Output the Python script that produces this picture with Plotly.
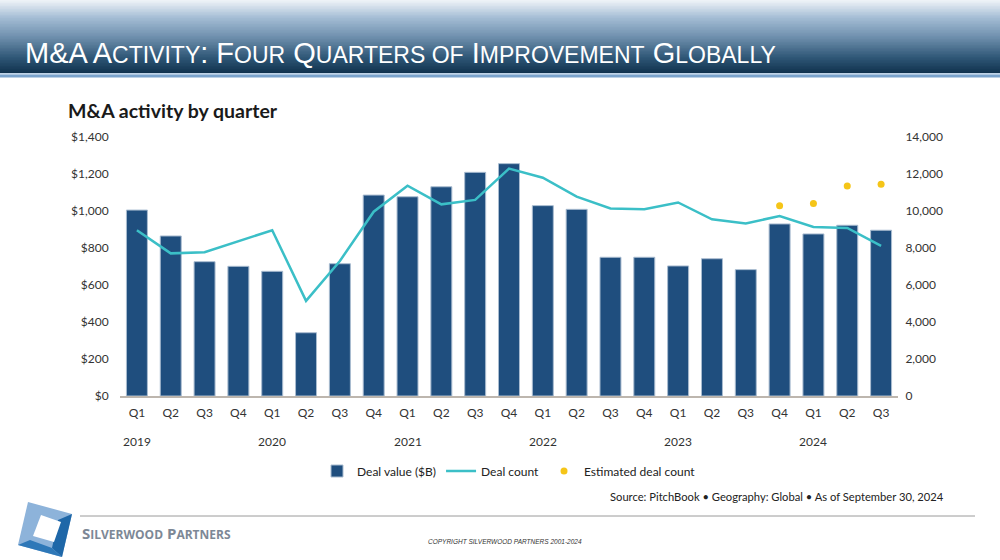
import plotly.graph_objects as go

quarters = ["Q1", "Q2", "Q3", "Q4"] * 5 + ["Q1", "Q2", "Q3"]
years = ["2019", "2020", "2021", "2022", "2023", "2024"]
deal_value = [1005, 865, 726, 701, 674, 342, 715, 1086, 1077, 1131, 1209, 1256,
              1029, 1009, 750, 750, 703, 742, 683, 930, 876, 923, 896]
deal_count = [8960, 7710, 7770, 8350, 8960, 5140, 7300, 9960, 11370, 10360, 10600, 12290,
              11800, 10780, 10140, 10090, 10460, 9550, 9330, 9730, 9140, 9080, 8110]
est_idx = [19, 20, 21, 22]
est_count = [10290, 10410, 11350, 11440]

left_ticks = [0, 200, 400, 600, 800, 1000, 1200, 1400]
right_ticks = [0, 2000, 4000, 6000, 8000, 10000, 12000, 14000]

W, H = 1000, 560
L, R, T, B = 120, 898, 137, 396


def xp(px):
    return (px - L) / (R - L)


def yp(py):
    return (B - py) / (B - T)


FONT = "Lato, 'Open Sans', sans-serif"
x = list(range(len(deal_value)))

fig = go.Figure()
fig.add_trace(go.Bar(
    x=x, y=deal_value, name="Deal value ($B)",
    marker=dict(color="#1F4E7E", line=dict(color="#A9BCD0", width=1)),
    yaxis="y"))
fig.add_trace(go.Scatter(
    x=x, y=deal_count, name="Deal count", mode="lines",
    line=dict(color="#3BBFC7", width=2.5), yaxis="y2"))
fig.add_trace(go.Scatter(
    x=est_idx, y=est_count, name="Estimated deal count", mode="markers",
    marker=dict(color="#F5C518", size=7), yaxis="y2"))

shapes = []
# header gradient
stops = [(0, (240, 244, 249)), (18, (163, 188, 212)), (38, (108, 141, 171)),
         (58, (46, 86, 117)), (73, (16, 50, 78))]


def lerp_color(py):
    for (y0, c0), (y1, c1) in zip(stops[:-1], stops[1:]):
        if y0 <= py <= y1:
            t = (py - y0) / (y1 - y0)
            return "rgb(%d,%d,%d)" % tuple(round(a + (b - a) * t) for a, b in zip(c0, c1))
    return "rgb(16,50,78)"


step = 1.5
py = 0.0
while py < 73:
    shapes.append(dict(type="rect", xref="paper", yref="paper", layer="below",
                       x0=xp(0), x1=xp(W), y0=yp(py), y1=yp(min(py + step + 0.5, 73)),
                       fillcolor=lerp_color(py + step / 2), line=dict(width=0)))
    py += step
shapes.append(dict(type="rect", xref="paper", yref="paper", layer="below",
                   x0=xp(0), x1=xp(W), y0=yp(73), y1=yp(74.5),
                   fillcolor="#BFD3E8", line=dict(width=0)))
shapes.append(dict(type="rect", xref="paper", yref="paper", layer="below",
                   x0=xp(0), x1=xp(W), y0=yp(74.5), y1=yp(77.5),
                   fillcolor="#7AA3CC", line=dict(width=0)))
# footer line
shapes.append(dict(type="line", xref="paper", yref="paper",
                   x0=xp(80), x1=xp(975), y0=yp(516), y1=yp(516),
                   line=dict(color="#9A9A9A", width=1)))


def poly(pts, color):
    path = "M " + " L ".join("%f,%f" % (xp(a), yp(b)) for a, b in pts) + " Z"
    return dict(type="path", xref="paper", yref="paper", path=path,
                fillcolor=color, line=dict(width=0))


# logo
shapes.append(poly([(28, 502), (72, 514), (62, 557), (18, 545)], "#8DB3DA"))
shapes.append(poly([(72, 514), (62, 557), (52, 548), (58, 520)], "#1E67A8"))
shapes.append(poly([(18, 545), (62, 557), (52, 548), (30, 540)], "#2E78B8"))
shapes.append(poly([(41, 515), (61, 522), (54, 542), (33, 536)], "#FFFFFF"))

annotations = []
for i, yr in enumerate(years):
    annotations.append(dict(x=i * 4, y=yp(441), xref="x", yref="paper", text=yr,
                            showarrow=False, font=dict(family=FONT, size=12, color="#333333"),
                            xanchor="center", yanchor="middle"))

annotations.append(dict(x=xp(66), y=yp(110), xref="paper", yref="paper",
                        text="<b>M&A activity by quarter</b>", showarrow=False,
                        font=dict(family=FONT, size=19.5, color="#1A1A1A"),
                        xanchor="left", yanchor="middle"))

sm = 23
hdr = ("M&A A<span style='font-size:%dpx'>CTIVITY</span>: F<span style='font-size:%dpx'>OUR</span> "
       "Q<span style='font-size:%dpx'>UARTERS OF</span> I<span style='font-size:%dpx'>MPROVEMENT</span> "
       "G<span style='font-size:%dpx'>LOBALLY</span>") % (sm, sm, sm, sm, sm)
annotations.append(dict(x=xp(23), y=yp(53), xref="paper", yref="paper", text=hdr,
                        showarrow=False,
                        font=dict(family="'Liberation Sans', Arial, sans-serif",
                                  size=29, color="#FFFFFF"),
                        xanchor="left", yanchor="middle"))

annotations.append(dict(x=xp(946), y=yp(497), xref="paper", yref="paper",
                        text="Source: PitchBook \u2022 Geography: Global \u2022 As of September 30, 2024",
                        showarrow=False, font=dict(family=FONT, size=11.2, color="#222222"),
                        xanchor="right", yanchor="middle"))
annotations.append(dict(x=xp(80), y=yp(533), xref="paper", yref="paper",
                        text="<b>S<span style='font-size:12px'>ILVERWOOD</span> P<span style='font-size:12px'>ARTNERS</span></b>",
                        showarrow=False, font=dict(family="'Open Sans', sans-serif", size=15, color="#7D8896"),
                        xanchor="left", yanchor="middle"))
annotations.append(dict(x=xp(505), y=yp(541), xref="paper", yref="paper",
                        text="<i>COPYRIGHT SILVERWOOD PARTNERS 2001-2024</i>",
                        showarrow=False, font=dict(family="'Liberation Sans', sans-serif", size=6.5, color="#333333"),
                        xanchor="center", yanchor="middle"))

fig.update_layout(
    width=W, height=H,
    margin=dict(l=L, r=W - R, t=T, b=H - B, pad=0),
    paper_bgcolor="white", plot_bgcolor="white",
    bargap=0.38,
    showlegend=True,
    legend=dict(orientation="h", x=0.5, xanchor="center", y=yp(471), yanchor="middle",
                font=dict(family=FONT, size=12, color="#222222"), itemwidth=30,
                traceorder="normal"),
    xaxis=dict(tickmode="array", tickvals=x, ticktext=quarters, range=[-0.5, len(x) - 0.5],
               showgrid=False, zeroline=False, showline=True, linecolor="#BDB6AE", linewidth=1.5,
               ticks="outside", ticklen=5, tickcolor="rgba(0,0,0,0)",
               tickfont=dict(family=FONT, size=12, color="#333333")),
    yaxis=dict(range=[0, 1400], tickvals=left_ticks,
               ticktext=["$" + format(v, ",") for v in left_ticks],
               showgrid=False, zeroline=False, showline=False,
               ticks="outside", ticklen=8, tickcolor="rgba(0,0,0,0)",
               tickfont=dict(family=FONT, size=12, color="#333333")),
    yaxis2=dict(range=[0, 14000], tickvals=right_ticks,
                ticktext=[format(v, ",") for v in right_ticks],
                overlaying="y", side="right", showgrid=False, zeroline=False, showline=False,
                ticks="outside", ticklen=4, tickcolor="rgba(0,0,0,0)",
                tickfont=dict(family=FONT, size=12, color="#333333")),
    shapes=shapes, annotations=annotations,
)

fig.write_html("out.html", config={"displayModeBar": False},
               post_script="document.body.style.margin='0';document.body.style.overflow='hidden';")
